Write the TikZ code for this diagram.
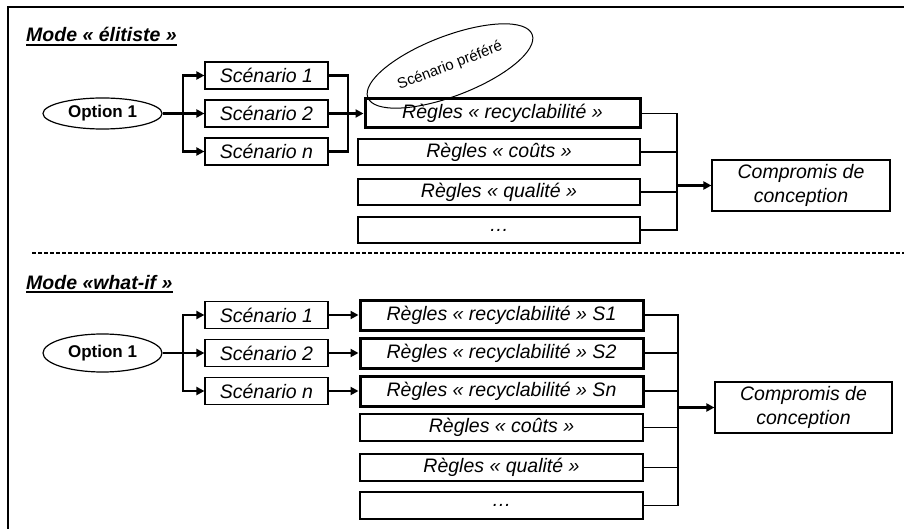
\documentclass[tikz,border=0pt]{standalone}
\usepackage{fontspec}
\setmainfont{Liberation Sans}
\usetikzlibrary{shapes.geometric,arrows.meta}
\tikzset{
  lbl/.style={font=\fontsize{19.5}{23}\selectfont\itshape},
  sbox/.style={draw, line width=1.2pt, minimum width=123pt, minimum height=27pt, inner sep=0pt, lbl},
  rbox/.style={draw, line width=1.2pt, minimum width=282pt, minimum height=26pt, inner sep=0pt, lbl},
  tbox/.style={draw, line width=3pt, minimum width=275pt, minimum height=29pt, inner sep=0pt, lbl},
  cbox/.style={draw, line width=1.2pt, minimum width=178pt, minimum height=51pt, inner sep=0pt, align=center, font=\fontsize{19.5}{23.5}\selectfont\itshape},
  optell/.style={draw, ellipse, line width=1.2pt, minimum width=119pt, inner sep=0pt, font=\fontsize{17}{20}\selectfont\bfseries},
  title/.style={anchor=base west, inner sep=0pt, font=\fontsize{19.5}{23}\selectfont\bfseries\itshape},
  lconn/.style={line width=2.2pt},
  rconn/.style={line width=1.7pt},
  arr/.style={-{Triangle[length=8pt,width=8pt]}},
}
\begin{document}
\begin{tikzpicture}[x=1pt,y=-1pt]
\useasboundingbox (0,0) rectangle (904,529);
% frame
\draw[line width=2.2pt] (8,529) -- (8,7) -- (904,7);
\draw[line width=1.8pt, dash pattern=on 4pt off 2pt] (32,253) -- (904,253);

% ===== Mode élitiste =====
\node[title] (t1) at (26,42) {Mode « élitiste »};
\draw[line width=1.5pt] ([yshift=-3pt]t1.base west) -- ([yshift=-3pt]t1.base east);

\node[optell, minimum height=31pt] (o1) at (102.5,113.5) {Option 1};
\node[sbox] (a1) at (266.5,75.5) {Scénario 1};
\node[sbox] (a2) at (266.5,113.5) {Scénario 2};
\node[sbox] (an) at (266.5,151.5) {Scénario n};
\node[tbox] (rec) at (502.5,113.5) {Règles « recyclabilité »};
\node[rbox] (cou) at (499,152) {Règles « coûts »};
\node[rbox] (qua) at (499,192) {Règles « qualité »};
\node[rbox] (dot) at (499,230) {…};
\node[cbox] (cmp) at (801,185.5) {Compromis de\\conception};
\node[draw, ellipse, rotate=21, line width=1pt, minimum width=176pt, minimum height=60pt, inner sep=0pt,
      font=\fontsize{15}{18}\selectfont] (pref) at (450,66) {Scénario préféré};

\coordinate (j1) at (183,113.5);
\coordinate (j2) at (348,113.5);
\coordinate (j3) at (677,185.5);
\draw[lconn] (o1.east) -- (j1);
\draw[lconn, arr] (j1) |- (a1.west);
\draw[lconn, arr] (j1) -- (a2.west);
\draw[lconn, arr] (j1) |- (an.west);
\draw[lconn] (a1.east) -| (j2);
\draw[lconn] (an.east) -| (j2);
\draw[lconn, arr] (a2.east) -- (rec.west);
\draw[rconn] (rec.east) -| (j3);
\draw[rconn] (cou.east) -| (j3);
\draw[rconn] (qua.east) -| (j3);
\draw[rconn] (dot.east) -| (j3);
\draw[lconn, arr] (j3) -- (cmp.west);

% ===== Mode what-if =====
\node[title] (t2) at (26,289) {Mode «what-if »};
\draw[line width=1.5pt] ([yshift=-3pt]t2.base west) -- ([yshift=-3pt]t2.base east);

\node[optell, minimum height=38pt] (o2) at (102.5,353) {Option 1};
\node[sbox] (b1) at (266.5,315) {Scénario 1};
\node[sbox] (b2) at (266.5,353) {Scénario 2};
\node[sbox] (bn) at (266.5,391) {Scénario n};
\node[tbox, minimum width=283pt, minimum height=30pt] (r1) at (501.5,315) {Règles « recyclabilité » S1};
\node[tbox, minimum width=283pt, minimum height=30pt] (r2) at (501.5,353) {Règles « recyclabilité » S2};
\node[tbox, minimum width=283pt, minimum height=30pt] (rn) at (501.5,391) {Règles « recyclabilité » Sn};
\node[rbox, minimum width=283pt, minimum height=27pt] (cou2) at (501.5,427.5) {Règles « coûts »};
\node[rbox, minimum width=283pt, minimum height=27pt] (qua2) at (501.5,467.5) {Règles « qualité »};
\node[rbox, minimum width=283pt, minimum height=27pt] (dot2) at (501.5,505.5) {…};
\node[cbox, minimum width=177pt] (cmp2) at (803.5,407.5) {Compromis de\\conception};

\coordinate (j4) at (183,353);
\coordinate (j5) at (678,407.5);
\draw[lconn] (o2.east) -- (j4);
\draw[lconn, arr] (j4) |- (b1.west);
\draw[lconn, arr] (j4) -- (b2.west);
\draw[lconn, arr] (j4) |- (bn.west);
\draw[lconn, arr] (b1.east) -- (r1.west);
\draw[lconn, arr] (b2.east) -- (r2.west);
\draw[lconn, arr] (bn.east) -- (rn.west);
\draw[rconn] (r1.east) -| (j5);
\draw[rconn] (r2.east) -| (j5);
\draw[rconn] (rn.east) -| (j5);
\draw[rconn] (cou2.east) -| (j5);
\draw[rconn] (qua2.east) -| (j5);
\draw[rconn] (dot2.east) -| (j5);
\draw[lconn, arr] (j5) -- (cmp2.west);
\end{tikzpicture}
\end{document}
